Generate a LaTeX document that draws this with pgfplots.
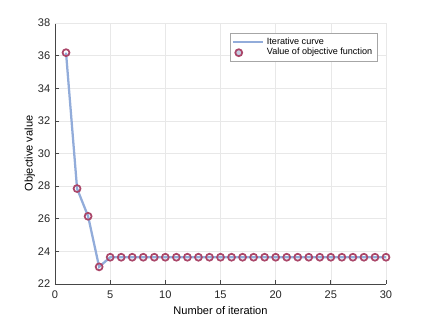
\documentclass[border=0pt]{standalone}
\usepackage{pgfplots}
\pgfplotsset{compat=1.18}
\usepackage{fontspec}
\setmainfont{Liberation Sans}
\definecolor{curve}{RGB}{146,172,218}
\definecolor{mkedge}{RGB}{170,70,105}
\definecolor{mkfill}{RGB}{196,206,226}
\definecolor{axgray}{RGB}{70,70,70}

\begin{document}
\begin{tikzpicture}[x=0.75pt,y=0.75pt]
\useasboundingbox (-55,-36) rectangle (371,284);
\begin{axis}[
    at={(0,0)}, anchor=south west,
    scale only axis,
    width=248.25pt, height=195.75pt,
    xmin=0, xmax=30, ymin=22, ymax=38,
    xtick={0,5,...,30}, ytick={22,24,...,38},
    font=\fontsize{8.3}{10}\selectfont,
    /pgf/number format/assume math mode=true,
    xlabel={Number of iteration},
    ylabel={Objective value},
    xlabel style={yshift=1pt},
    ylabel style={yshift=-4.5pt},
    xticklabel style={yshift=-1.5pt},
    axis x line*=bottom, axis y line*=left,
    axis line style={axgray, line width=0.5pt},
    tick style={axgray, line width=0.5pt},
    major tick length=3pt,
    tick align=inside,
    ticklabel style={text=black!85},
    grid=major, major grid style={gray!18, line width=0.4pt},
    legend style={at={(0.973,0.962)}, anchor=north east,
                  draw=gray!70, line width=0.4pt, fill=white,
                  font=\fontsize{6.8}{8}\selectfont,
                  row sep=-2.5pt, inner sep=1.5pt},
    legend cell align=left,
]
\draw[gray!18, line width=0.4pt] (rel axis cs:0,1) -- (rel axis cs:1,1) -- (rel axis cs:1,0);
\addplot[curve, line width=1.7pt, mark=none,
         legend image code/.code={\draw[curve, line width=1.3pt] (0.05cm,0) -- (0.85cm,0);}]
  coordinates {(1,36.18) (2,27.85) (3,26.15) (4,23.05) (5,23.64) (6,23.64)
  (7,23.64) (8,23.64) (9,23.64) (10,23.64) (11,23.64) (12,23.64) (13,23.64)
  (14,23.64) (15,23.64) (16,23.64) (17,23.64) (18,23.64) (19,23.64) (20,23.64)
  (21,23.64) (22,23.64) (23,23.64) (24,23.64) (25,23.64) (26,23.64) (27,23.64)
  (28,23.64) (29,23.64) (30,23.64)};
\addlegendentry{Iterative curve}
\addplot[only marks, mark=o, mark size=2.6pt,
         mark options={draw=mkedge, fill=mkfill, line width=1.3pt},
         legend image code/.code={\draw[mkedge, fill=mkfill, line width=1.3pt] (0.2cm,0) circle (2.6pt);}]
  coordinates {(1,36.18) (2,27.85) (3,26.15) (4,23.05) (5,23.64) (6,23.64)
  (7,23.64) (8,23.64) (9,23.64) (10,23.64) (11,23.64) (12,23.64) (13,23.64)
  (14,23.64) (15,23.64) (16,23.64) (17,23.64) (18,23.64) (19,23.64) (20,23.64)
  (21,23.64) (22,23.64) (23,23.64) (24,23.64) (25,23.64) (26,23.64) (27,23.64)
  (28,23.64) (29,23.64) (30,23.64)};
\addlegendentry{Value of objective function}
\end{axis}
\end{tikzpicture}
\end{document}
